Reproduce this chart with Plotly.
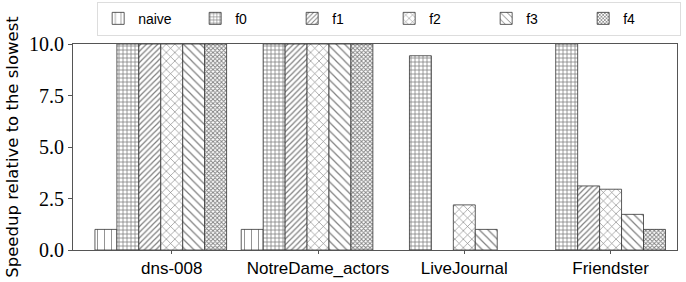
import plotly.graph_objects as go

categories = ["dns-008", "NotreDame_actors", "LiveJournal", "Friendster"]
series_names = ["naive", "f0", "f1", "f2", "f3", "f4"]
naive = [1.0, 1.0, None, None]
f0 = [10.0, 10.0, 9.43, 10.0]
f1 = [10.0, 10.0, None, 3.11]
f2 = [10.0, 10.0, 2.19, 2.95]
f3 = [10.0, 10.0, 1.0, 1.73]
f4 = [10.0, 10.0, None, 1.0]
y_ticks = [0.0, 2.5, 5.0, 7.5, 10.0]

series = [naive, f0, f1, f2, f3, f4]
patterns = [
    dict(shape="|", size=7, solidity=0.12),
    dict(shape="+", size=4, solidity=0.35),
    dict(shape="/", size=4, solidity=0.3),
    dict(shape="x", size=6, solidity=0.2),
    dict(shape="\\", size=6, solidity=0.2),
    dict(shape="x", size=3, solidity=0.5),
]

W = 0.15
xs = list(range(len(categories)))
fig = go.Figure()
for k, (name, vals, pat) in enumerate(zip(series_names, series, patterns)):
    fig.add_trace(go.Bar(
        x=xs, y=vals, name=name,
        width=W, offset=(k - 3) * W - W / 2,
        marker=dict(color="white",
                    line=dict(color="#333333", width=0.8),
                    pattern=dict(fgcolor="black", bgcolor="white", **pat)),
    ))

fig.update_layout(
    width=686, height=282,
    margin=dict(l=73, r=9, t=44, b=32, autoexpand=False),
    paper_bgcolor="white", plot_bgcolor="white",
    barmode="overlay",
    showlegend=True,
    legend=dict(orientation="h", x=0.04, xanchor="left", y=1.04, yanchor="bottom",
                bgcolor="white", bordercolor="#dddddd", borderwidth=1,
                font=dict(family="Liberation Sans", size=14, color="black"),
                entrywidth=52, entrywidthmode="pixels", itemwidth=30,
                traceorder="normal"),
    xaxis=dict(range=[-0.675, 3.454], tickvals=xs, ticktext=categories,
               automargin=False,
               showgrid=False, zeroline=False, showline=True, mirror=True,
               linecolor="#555555", linewidth=1, ticks="outside", ticklen=3,
               tickcolor="#555555",
               tickfont=dict(family="Liberation Sans", size=17, color="black")),
    yaxis=dict(range=[0, 10], tickvals=y_ticks,
               ticktext=[f"{v:.1f}" for v in y_ticks],
               automargin=False,
               showgrid=False, zeroline=False, showline=True, mirror=True,
               linecolor="#555555", linewidth=1, ticks="outside", ticklen=4,
               tickcolor="#555555",
               tickfont=dict(family="Liberation Serif", size=20, color="black"),
               title=dict(text="Speedup relative to the slowest", standoff=6,
                          font=dict(family="DejaVu Sans", size=16.5, color="black"))),
)

fig.write_html("out.html", config={"displayModeBar": False},
               post_script="document.body.style.margin='0';")
